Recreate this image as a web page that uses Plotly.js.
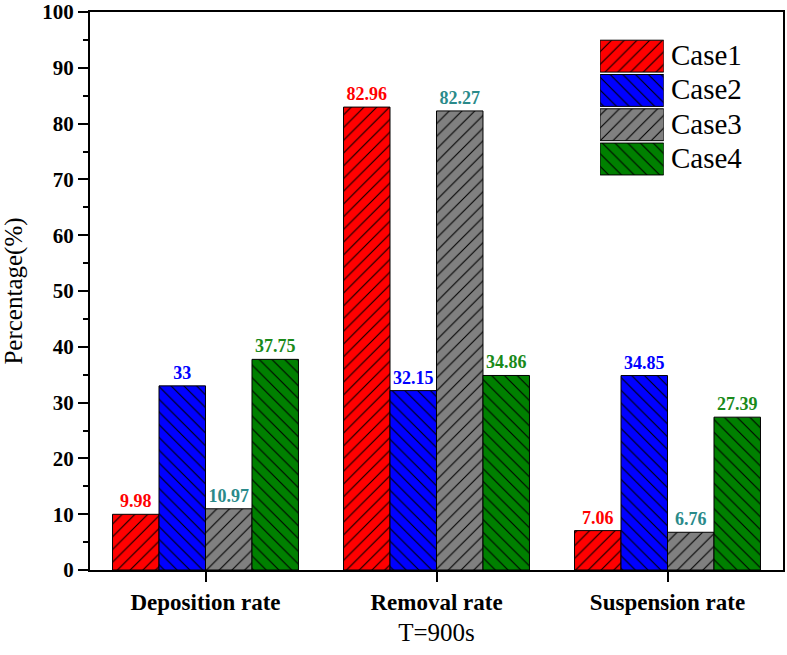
<!DOCTYPE html>
<html>
<head>
<meta charset="utf-8">
<script src="https://cdn.plot.ly/plotly-3.0.1.min.js"></script>
<style>html,body{margin:0;padding:0;background:#fff;}#chart{width:787px;height:655px;}</style>
</head>
<body>
<div id="chart"></div>
<script>
// ---- data ----
const categories = ['Deposition rate', 'Removal rate', 'Suspension rate'];
const seriesNames = ['Case1', 'Case2', 'Case3', 'Case4'];
const case1 = [9.98, 82.96, 7.06];
const case2 = [33, 32.15, 34.85];
const case3 = [10.97, 82.27, 6.76];
const case4 = [37.75, 34.86, 27.39];
const yTickVals = [0, 10, 20, 30, 40, 50, 60, 70, 80, 90, 100];

// ---- styles ----
const fillColors = ['#ff0000', '#0000ff', '#808080', '#008000'];
const textColors = ['#ff0000', '#0000ff', '#2a8a8a', '#1a8a1a'];
const hatch = ['/', '\\', '/', '\\'];
const serif = 'Liberation Serif, serif';

function pattern(i) {
  return {shape: hatch[i], bgcolor: fillColors[i], fgcolor: '#000', fgopacity: 1, size: 9, solidity: 0.12};
}

const values = [case1, case2, case3, case4];
const traces = values.map((vals, i) => ({
  type: 'bar',
  name: seriesNames[i],
  x: categories,
  y: vals,
  text: vals.map(v => String(v)),
  textposition: 'outside',
  cliponaxis: false,
  textfont: {family: serif, size: 18, color: textColors[i], weight: 'bold'},
  marker: {color: fillColors[i], line: {color: '#000', width: 1}, pattern: pattern(i)},
  showlegend: false,
  hoverinfo: 'skip'
}));

// custom legend: one swatch bar per series in a small subplot
seriesNames.forEach((nm, i) => {
  traces.push({
    type: 'bar',
    orientation: 'h',
    x: [1],
    y: [nm],
    width: 0.93,
    offsetgroup: 'legend',
    xaxis: 'x2',
    yaxis: 'y2',
    marker: {color: fillColors[i], line: {color: '#000', width: 1}, pattern: pattern(i)},
    showlegend: false,
    hoverinfo: 'skip'
  });
});

const legendLabels = seriesNames.map(nm => ({
  xref: 'x2', yref: 'y2', x: 1, y: nm,
  xanchor: 'left', yanchor: 'middle', xshift: 5, yshift: 1,
  text: nm, showarrow: false,
  font: {family: serif, size: 29, color: '#000'}
}));

const layout = {
  width: 787,
  height: 655,
  margin: {l: 90, r: 4, t: 12, b: 85},
  paper_bgcolor: '#fff',
  plot_bgcolor: '#fff',
  barmode: 'group',
  bargap: 0.195,
  bargroupgap: 0,
  font: {family: serif, color: '#000'},
  annotations: legendLabels,
  xaxis: {
    type: 'category',
    range: [-0.5, 2.5],
    showline: true, linecolor: '#000', linewidth: 2, mirror: true,
    ticks: 'outside', ticklen: 10, tickwidth: 2, tickcolor: '#000',
    tickfont: {family: serif, size: 23, weight: 'bold'},
    showgrid: false, zeroline: false,
    title: {text: 'T=900s', font: {family: serif, size: 25}, standoff: 10}
  },
  yaxis: {
    range: [0, 100],
    tickvals: yTickVals,
    ticktext: yTickVals.map(String),
    showline: true, linecolor: '#000', linewidth: 2, mirror: true,
    ticks: 'outside', ticklen: 10, tickwidth: 2, tickcolor: '#000',
    minor: {dtick: 5, ticks: 'outside', ticklen: 5, tickwidth: 2, tickcolor: '#000', showgrid: false},
    tickfont: {family: serif, size: 21, weight: 'bold'},
    showgrid: false, zeroline: false,
    title: {text: 'Percentage(%)', font: {family: serif, size: 25}, standoff: 16}
  },
  xaxis2: {
    domain: [0.736, 0.828],
    range: [0, 1],
    anchor: 'y2',
    showline: false, showgrid: false, zeroline: false, showticklabels: false, fixedrange: true
  },
  yaxis2: {
    domain: [0.7025, 0.9516],
    anchor: 'x2',
    type: 'category',
    autorange: 'reversed',
    showline: false, showgrid: false, zeroline: false, ticks: '', showticklabels: false,
    fixedrange: true
  }
};

Plotly.newPlot('chart', traces, layout, {displayModeBar: false, staticPlot: true});
</script>
</body>
</html>
